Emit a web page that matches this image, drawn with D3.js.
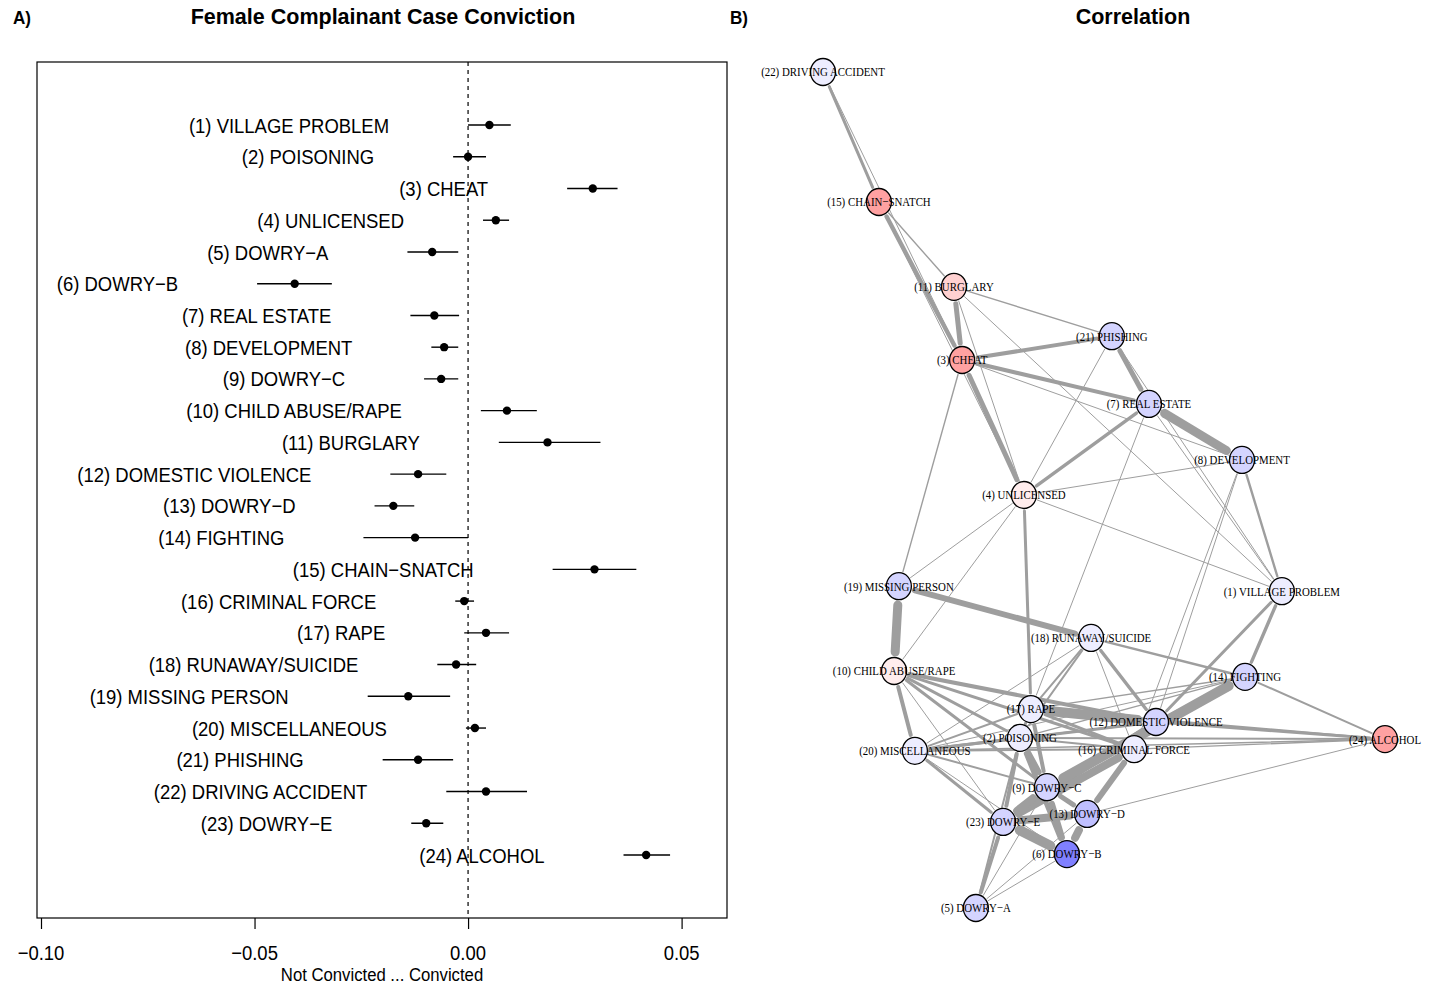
<!DOCTYPE html>
<html>
<head>
<meta charset="utf-8">
<script src="https://cdn.jsdelivr.net/npm/d3@7"></script>
<style>
  body { margin: 0; background: #fff; }
  svg { display: block; }
</style>
</head>
<body>
<div id="chart"></div>
<script>
/* ---------- data ---------- */
const crimeNames = ["VILLAGE PROBLEM", "POISONING", "CHEAT", "UNLICENSED", "DOWRY\u2212A", "DOWRY\u2212B",
  "REAL ESTATE", "DEVELOPMENT", "DOWRY\u2212C", "CHILD ABUSE/RAPE", "BURGLARY", "DOMESTIC VIOLENCE",
  "DOWRY\u2212D", "FIGHTING", "CHAIN\u2212SNATCH", "CRIMINAL FORCE", "RAPE", "RUNAWAY/SUICIDE",
  "MISSING PERSON", "MISCELLANEOUS", "PHISHING", "DRIVING ACCIDENT", "DOWRY\u2212E", "ALCOHOL"];

const estimate = [0.0050, 0.0000, 0.0292, 0.0065, -0.0084, -0.0406, -0.0079, -0.0056, -0.0063, 0.0091, 0.0186, -0.0117,
  -0.0175, -0.0124, 0.0296, -0.0009, 0.0042, -0.0028, -0.0140, 0.0016, -0.0117, 0.0042, -0.0098, 0.0417];
const ciLower = [0.0000, -0.0035, 0.0232, 0.0035, -0.0142, -0.0494, -0.0135, -0.0086, -0.0103, 0.0030, 0.0072, -0.0182,
  -0.0219, -0.0245, 0.0198, -0.0030, -0.0009, -0.0072, -0.0235, -0.0005, -0.0200, -0.0051, -0.0133, 0.0364];
const ciUpper = [0.0100, 0.0042, 0.0350, 0.0096, -0.0023, -0.0319, -0.0021, -0.0023, -0.0023, 0.0161, 0.0310, -0.0051,
  -0.0126, 0.0000, 0.0394, 0.0014, 0.0096, 0.0019, -0.0042, 0.0042, -0.0035, 0.0138, -0.0058, 0.0473];

const xTicks = [-0.10, -0.05, 0.00, 0.05];

// node shading: negative = blue, positive = red
const nodeShade = [-0.07, -0.07, 0.37, 0.07, -0.17, -0.5, -0.17, -0.17, -0.17, 0.07, 0.18, -0.17,
  -0.25, -0.17, 0.37, -0.07, -0.07, -0.07, -0.17, -0.07, -0.17, -0.07, -0.17, 0.37];

// network layout (in layout units, -1..1)
const layoutX = [0.633, -0.299, -0.505, -0.285, -0.456, -0.132, 0.160, 0.491, -0.203, -0.747, -0.534, 0.185,
  -0.060, 0.502, -0.801, 0.107, -0.260, -0.046, -0.730, -0.673, 0.028, -1.000, -0.359, 1.000];
const layoutY = [-0.242, -0.593, 0.311, -0.012, -1.000, -0.871, 0.206, 0.072, -0.711, -0.433, 0.486, -0.555,
  -0.775, -0.447, 0.689, -0.620, -0.524, -0.354, -0.230, -0.624, 0.368, 1.000, -0.794, -0.596];

// edges: [from, to, correlation]
const edges = [
  [22,15,.15],[22,3,.05],[15,3,.22],[15,11,.07],[15,4,.05],[11,3,.25],[11,21,.07],[11,1,.05],[11,4,.05],
  [3,21,.20],[3,7,.20],[3,8,.05],[3,4,.25],[3,19,.07],[21,7,.25],[21,4,.05],[21,1,.05],[7,8,.45],[7,4,.17],
  [7,1,.05],[7,17,.05],[8,4,.05],[8,1,.12],[8,12,.05],[8,16,.05],[4,1,.05],[4,19,.05],[4,10,.05],[4,17,.15],
  [19,10,.45],[19,18,.30],[1,14,.17],[1,12,.15],[18,14,.12],[18,12,.17],[18,16,.05],[18,17,.10],[18,2,.10],
  [18,20,.05],[10,20,.20],[10,12,.20],[10,16,.15],[10,9,.15],[10,2,.15],[10,23,.05],[17,12,.50],[17,16,.15],
  [17,9,.20],[17,2,.15],[17,20,.10],[17,24,.10],[14,9,.50],[14,12,.15],[14,17,.07],[14,2,.07],[14,20,.05],
  [14,24,.10],[12,24,.15],[12,20,.15],[12,2,.10],[12,23,.30],[12,16,.10],[16,13,.30],[16,23,.40],[16,24,.07],
  [16,20,.10],[16,2,.10],[24,2,.10],[24,20,.07],[24,13,.05],[2,23,.20],[2,9,.30],[2,6,.25],[2,20,.15],
  [2,5,.10],[23,6,.50],[23,9,.40],[23,13,.40],[9,13,.25],[9,6,.30],[13,6,.40],[23,5,.20],[5,6,.05],
  [5,9,.05],[5,13,.05],[20,23,.15],[20,9,.10],[20,6,.05]
];

/* ---------- setup ---------- */
const W = 1434, H = 985;
const svg = d3.select("#chart").append("svg")
  .attr("width", W)
  .attr("height", H)
  .attr("viewBox", `0 0 ${W} ${H}`);

const SANS = "'Liberation Sans', Arial, Helvetica, sans-serif";
const SERIF = "'Liberation Serif', 'Times New Roman', serif";

// text squeezed horizontally like the original render
function addText(parent, x, y, str, opts) {
  const o = Object.assign({ size: 21, sx: 0.88, anchor: "middle", family: SANS, weight: "normal", dy: "0" }, opts);
  return parent.append("g")
    .attr("transform", `translate(${x},${y}) scale(${o.sx},1)`)
    .append("text")
    .attr("text-anchor", o.anchor)
    .attr("dy", o.dy)
    .style("font-family", o.family)
    .style("font-size", o.size + "px")
    .style("font-weight", o.weight)
    .style("fill", "#000")
    .text(str);
}

/* ---------- Panel A: forest plot ---------- */
function drawForestPlot() {
  const box = { left: 37, right: 727, top: 62, bottom: 918 };
  const g = svg.append("g");

  const x = d3.scaleLinear().domain([-0.10, 0.05]).range([41, 681.6]);
  const y = d3.scaleLinear().domain([1, crimeNames.length]).range([125, 855]);

  // zero line
  g.append("line")
    .attr("x1", x(0)).attr("x2", x(0))
    .attr("y1", box.top).attr("y2", box.bottom)
    .attr("stroke", "#000")
    .attr("stroke-width", 1.2)
    .attr("stroke-dasharray", "4,4");

  // box
  g.append("rect")
    .attr("x", box.left).attr("y", box.top)
    .attr("width", box.right - box.left)
    .attr("height", box.bottom - box.top)
    .attr("fill", "none")
    .attr("stroke", "#000")
    .attr("stroke-width", 1.2);

  // X axis
  const fmt = d => d3.format(".2f")(d).replace("-", "\u2212");
  const ax = g.append("g")
    .attr("transform", `translate(0,${box.bottom})`)
    .call(d3.axisBottom(x).tickValues(xTicks).tickSize(11).tickFormat(""));
  ax.select(".domain").remove();
  ax.selectAll("line").attr("stroke", "#000").attr("stroke-width", 1.2);

  xTicks.forEach(t => addText(g, x(t), 960, fmt(t)));
  addText(g, (box.left + box.right) / 2, 981, "Not Convicted ... Convicted", { size: 19 });

  const rows = crimeNames.map((name, i) => ({
    label: `(${i + 1}) ${name}`, est: estimate[i], lo: ciLower[i], hi: ciUpper[i], idx: i + 1
  }));

  // CI lines
  g.selectAll(".ci")
    .data(rows)
    .enter().append("line")
    .attr("class", "ci")
    .attr("x1", d => x(d.lo)).attr("x2", d => x(d.hi))
    .attr("y1", d => y(d.idx)).attr("y2", d => y(d.idx))
    .attr("stroke", "#000")
    .attr("stroke-width", 1.4);

  // points
  g.selectAll(".pt")
    .data(rows)
    .enter().append("circle")
    .attr("class", "pt")
    .attr("cx", d => x(d.est))
    .attr("cy", d => y(d.idx))
    .attr("r", 4.2)
    .attr("fill", "#000");

  // labels, right aligned a bit left of the interval
  rows.forEach(d => {
    addText(g, x(d.lo - 0.0185), y(d.idx), d.label, { anchor: "end", dy: "0.36em" });
  });

  // titles
  addText(svg, 22, 24, "A)", { weight: "bold", size: 19, sx: 0.9 });
  addText(svg, 383, 24, "Female Complainant Case Conviction", { weight: "bold", size: 21.5, sx: 1 });
}

/* ---------- Panel B: correlation network ---------- */
function drawNetwork() {
  const g = svg.append("g");
  const x = d3.scaleLinear().domain([-1, 1]).range([823, 1385]);
  const y = d3.scaleLinear().domain([-1, 1]).range([908, 72]);
  const width = d3.scaleLinear().domain([0, 0.5]).range([0, 10]);
  const fill = d3.scaleLinear().domain([-1, 0, 1]).range(["#0000ff", "#ffffff", "#ff0000"]);
  const rx = 12.5, ry = 13.5;

  const nodes = crimeNames.map((name, i) => ({
    label: `(${i + 1}) ${name}`, x: x(layoutX[i]), y: y(layoutY[i]), shade: nodeShade[i]
  }));

  const links = edges.map(([a, b, r]) => ({ s: nodes[a - 1], t: nodes[b - 1], r }))
    .sort((p, q) => p.r - q.r);

  // edges end at node borders
  const trim = (d, end) => {
    const dx = d.t.x - d.s.x, dy = d.t.y - d.s.y;
    const len = Math.hypot(dx, dy);
    const ux = dx / len, uy = dy / len;
    const rr = 1 / Math.hypot(ux / rx, uy / ry) + width(d.r) / 2 + 1;
    return end === 0 ? [d.s.x + ux * rr, d.s.y + uy * rr] : [d.t.x - ux * rr, d.t.y - uy * rr];
  };

  g.selectAll(".edge")
    .data(links)
    .enter().append("line")
    .attr("class", "edge")
    .attr("x1", d => trim(d, 0)[0]).attr("y1", d => trim(d, 0)[1])
    .attr("x2", d => trim(d, 1)[0]).attr("y2", d => trim(d, 1)[1])
    .attr("stroke", "#9e9e9e")
    .attr("stroke-width", d => width(d.r))
    .attr("stroke-linecap", "round");

  g.selectAll(".node")
    .data(nodes)
    .enter().append("ellipse")
    .attr("class", "node")
    .attr("cx", d => d.x).attr("cy", d => d.y)
    .attr("rx", rx).attr("ry", ry)
    .attr("fill", d => fill(d.shade))
    .attr("stroke", "#000")
    .attr("stroke-width", 1.3);

  nodes.forEach(d => {
    addText(g, d.x, d.y, d.label, { family: SERIF, size: 12.5, sx: 0.87, dy: "0.35em" });
  });

  addText(svg, 739, 24, "B)", { weight: "bold", size: 19, sx: 0.9 });
  addText(svg, 1133, 24, "Correlation", { weight: "bold", size: 21.5, sx: 1 });
}

drawForestPlot();
drawNetwork();
</script>
</body>
</html>
